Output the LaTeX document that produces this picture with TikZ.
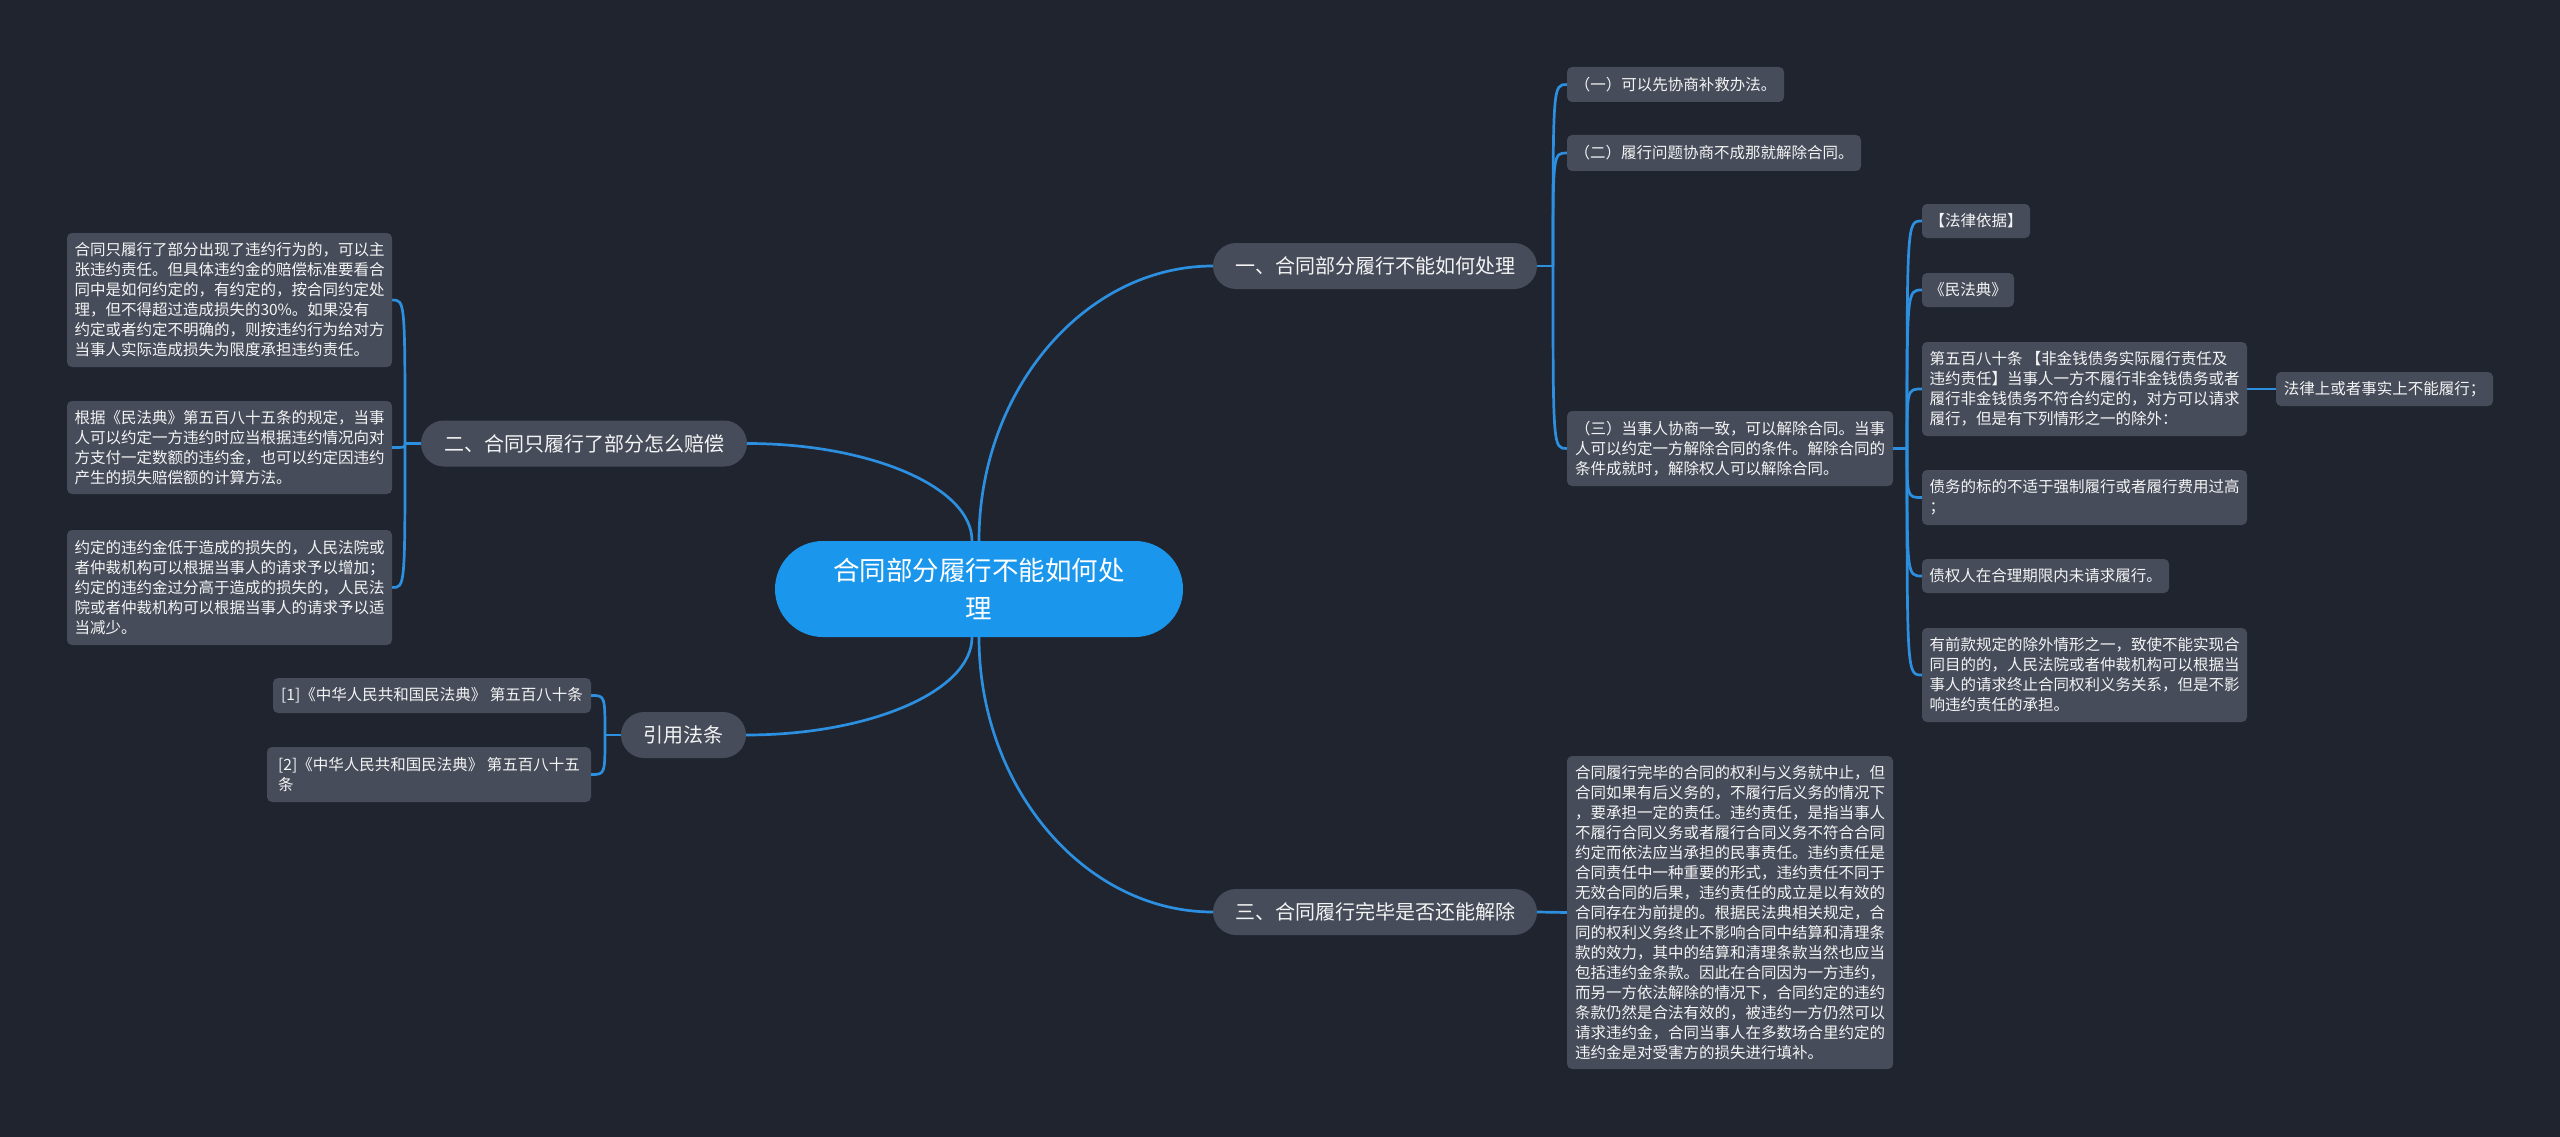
\documentclass[tikz,border=0pt]{standalone}
\usepackage{fontspec}
\newfontfamily\cjk{Noto Sans CJK SC}
\usetikzlibrary{calc}
\definecolor{bgc}{HTML}{20242F}
\definecolor{boxc}{HTML}{464C5A}
\definecolor{rootc}{HTML}{1A97EC}
\definecolor{linec}{HTML}{2C8FDF}
\definecolor{txtc}{HTML}{F4F4F4}
\newcommand\mybrk[2]{\draw[conn] let \p1=(#1),\p2=(#2) in (\p1) .. controls (\x1,\y2) .. (\p2);}
\tikzset{
  conn/.style={draw=linec, line width=2.7pt},
  leaf/.style={fill=boxc, rounded corners=5pt, text=txtc, font=\cjk\fontsize{15.5}{20}\selectfont, align=left, inner sep=0pt},
  branch/.style={fill=boxc, rounded corners=23pt, text=txtc, font=\cjk\fontsize{20}{24}\selectfont, inner sep=0pt, minimum height=46pt},
  rootn/.style={fill=rootc, rounded corners=48pt, text=white, font=\cjk\fontsize{26.5}{38}\selectfont, align=center, inner sep=0pt, minimum height=96pt, minimum width=408pt},
}
\begin{document}
\begin{tikzpicture}[x=1pt,y=-1pt]
\useasboundingbox (0,0) rectangle (2560,1137);
\fill[bgc] (0,0) rectangle (2560,1137);

% root and branches
\node[rootn] (root) at (979,589) {合同部分履行不能如何处\\理};
\node[branch, minimum width=324pt] (b1) at (1375,266) {一、合同部分履行不能如何处理};
\node[branch, minimum width=326pt] (b2) at (584,443.5) {二、合同只履行了部分怎么赔偿};
\node[branch, minimum width=324pt] (b3) at (1375,912) {三、合同履行完毕是否还能解除};
\node[branch, minimum width=125pt] (b4) at (683.5,735) {引用法条};

% branch 1 children
\node[leaf, minimum width=217pt, minimum height=35pt] (c11) at (1675.5,84.5) {（一）可以先协商补救办法。};
\node[leaf, minimum width=294pt, minimum height=36pt] (c12) at (1714,153) {（二）履行问题协商不成那就解除合同。};
\node[leaf, minimum width=326pt, minimum height=75pt] (c13) at (1730,448.5) {（三）当事人协商一致，可以解除合同。当事\\人可以约定一方解除合同的条件。解除合同的\\条件成就时，解除权人可以解除合同。};

% children of (三)
\node[leaf, minimum width=108pt, minimum height=34pt] (d1) at (1976,221) {【法律依据】};
\node[leaf, minimum width=92pt, minimum height=34pt] (d2) at (1968,290) {《民法典》};
\node[leaf, minimum width=325pt, minimum height=94pt] (d3) at (2084.5,389) {第五百八十条 【非金钱债务实际履行责任及\\违约责任】当事人一方不履行非金钱债务或者\\履行非金钱债务不符合约定的，对方可以请求\\履行，但是有下列情形之一的除外：};
\node[leaf, minimum width=217pt, minimum height=34pt] (d3a) at (2384.5,389) {法律上或者事实上不能履行；};
\node[leaf, minimum width=325pt, minimum height=55pt] (d4) at (2084.5,497.5) {债务的标的不适于强制履行或者履行费用过高\\；};
\node[leaf, minimum width=247pt, minimum height=34pt] (d5) at (2045.5,576) {债权人在合理期限内未请求履行。};
\node[leaf, minimum width=325pt, minimum height=94pt] (d6) at (2084.5,675) {有前款规定的除外情形之一，致使不能实现合\\同目的的，人民法院或者仲裁机构可以根据当\\事人的请求终止合同权利义务关系，但是不影\\响违约责任的承担。};

% branch 2 children
\node[leaf, minimum width=325pt, minimum height=134pt] (e1) at (229.5,300) {合同只履行了部分出现了违约行为的，可以主\\张违约责任。但具体违约金的赔偿标准要看合\\同中是如何约定的，有约定的，按合同约定处\\理，但不得超过造成损失的30\%。如果没有\\约定或者约定不明确的，则按违约行为给对方\\当事人实际造成损失为限度承担违约责任。};
\node[leaf, minimum width=325pt, minimum height=93pt] (e2) at (229.5,447.5) {根据《民法典》第五百八十五条的规定，当事\\人可以约定一方违约时应当根据违约情况向对\\方支付一定数额的违约金，也可以约定因违约\\产生的损失赔偿额的计算方法。};
\node[leaf, minimum width=325pt, minimum height=115pt] (e3) at (229.5,587.5) {约定的违约金低于造成的损失的，人民法院或\\者仲裁机构可以根据当事人的请求予以增加；\\约定的违约金过分高于造成的损失的，人民法\\院或者仲裁机构可以根据当事人的请求予以适\\当减少。};

% branch 3 child
\node[leaf, minimum width=326pt, minimum height=313pt] (f1) at (1730,912.5) {合同履行完毕的合同的权利与义务就中止，但\\合同如果有后义务的，不履行后义务的情况下\\，要承担一定的责任。违约责任，是指当事人\\不履行合同义务或者履行合同义务不符合合同\\约定而依法应当承担的民事责任。违约责任是\\合同责任中一种重要的形式，违约责任不同于\\无效合同的后果，违约责任的成立是以有效的\\合同存在为前提的。根据民法典相关规定，合\\同的权利义务终止不影响合同中结算和清理条\\款的效力，其中的结算和清理条款当然也应当\\包括违约金条款。因此在合同因为一方违约，\\而另一方依法解除的情况下，合同约定的违约\\条款仍然是合法有效的，被违约一方仍然可以\\请求违约金，合同当事人在多数场合里约定的\\违约金是对受害方的损失进行填补。};

% branch 4 children
\node[leaf, minimum width=318pt, minimum height=35pt] (g1) at (432,695.5) {[1]《中华人民共和国民法典》 第五百八十条};
\node[leaf, minimum width=324pt, minimum height=55pt] (g2) at (429,774.5) {[2]《中华人民共和国民法典》 第五百八十五\\条};

% junctions
\coordinate (J1) at (1553,266);
\coordinate (J2) at (1907,448.5);
\coordinate (J3) at (405,443.5);
\coordinate (J4) at (605,735);

% root connectors
\draw[conn] (root.north) .. controls (979,390) and (1085,266) .. (b1.west);
\draw[conn] (root.south) .. controls (979,788) and (1085,912) .. (b3.west);
\draw[conn] (b2.east) .. controls (870,443.5) and (972,487) .. ($(root.north)+(-7,0)$);
\draw[conn] (b4.east) .. controls (870,735) and (972,691) .. ($(root.south)+(-7,0)$);

% branch 1 bracket
\draw[conn] (b1.east) -- (J1);
\mybrk{J1}{c11.west}
\mybrk{J1}{c12.west}
\mybrk{J1}{c13.west}

% (三) bracket
\draw[conn] (c13.east) -- (J2);
\mybrk{J2}{d1.west}
\mybrk{J2}{d2.west}
\mybrk{J2}{d3.west}
\mybrk{J2}{d4.west}
\mybrk{J2}{d5.west}
\mybrk{J2}{d6.west}
\draw[conn] (d3.east) -- (d3a.west);

% branch 2 bracket
\draw[conn] (b2.west) -- (J3);
\mybrk{J3}{e1.east}
\mybrk{J3}{e2.east}
\mybrk{J3}{e3.east}

% branch 3
\draw[conn] (b3.east) -- (f1.west);

% branch 4 bracket
\draw[conn] (b4.west) -- (J4);
\mybrk{J4}{g1.east}
\mybrk{J4}{g2.east}
\end{tikzpicture}
\end{document}
